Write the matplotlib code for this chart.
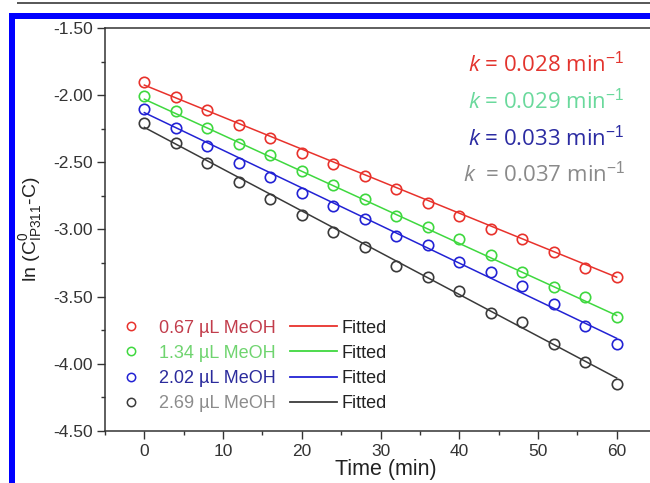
"""
plot.py  —  ln(C0 - C) vs time for four MeOH loadings, with linear fits.
Run: python plot.py
"""
import matplotlib
matplotlib.use("Agg")
import matplotlib.pyplot as plt
import matplotlib.ticker as mticker
from matplotlib.lines import Line2D
from matplotlib.patches import Rectangle

plt.rcParams["font.family"] = ["Liberation Sans", "DejaVu Sans"]
plt.rcParams["mathtext.fontset"] = "custom"
plt.rcParams["mathtext.rm"] = "Liberation Sans"
plt.rcParams["mathtext.it"] = "Open Sans:italic"

# ── Data ──────────────────────────────────────────────────────────────────
time_min = [0, 4, 8, 12, 16, 20, 24, 28, 32, 36, 40, 44, 48, 52, 56, 60]

ln_067 = [-1.90, -2.01, -2.11, -2.22, -2.32, -2.43, -2.51, -2.60,
          -2.70, -2.80, -2.90, -3.00, -3.07, -3.17, -3.29, -3.35]
ln_134 = [-2.005, -2.12, -2.245, -2.365, -2.445, -2.565, -2.67, -2.77,
          -2.90, -2.98, -3.07, -3.19, -3.32, -3.43, -3.50, -3.65]
ln_202 = [-2.10, -2.245, -2.38, -2.505, -2.61, -2.725, -2.825, -2.92,
          -3.05, -3.115, -3.24, -3.32, -3.42, -3.555, -3.72, -3.855]
ln_269 = [-2.207, -2.356, -2.505, -2.65, -2.77, -2.895, -3.02, -3.13,
          -3.27, -3.35, -3.46, -3.62, -3.69, -3.85, -3.99, -4.15]

# fitted lines: value at t = 0 and at t = 60
fit_t   = [0, 60]
fit_067 = [-1.925, -3.355]
fit_134 = [-2.03, -3.64]
fit_202 = [-2.13, -3.81]
fit_269 = [-2.24, -4.105]

series_labels = ["0.67 µL MeOH", "1.34 µL MeOH", "2.02 µL MeOH", "2.69 µL MeOH"]
k_labels = [r"$k$ = 0.028 min$^{-1}$", r"$k$ = 0.029 min$^{-1}$",
            r"$k$ = 0.033 min$^{-1}$", r"$k$  = 0.037 min$^{-1}$"]

# ── Styles ────────────────────────────────────────────────────────────────
DATA_C  = ["#e8322c", "#3fd83f", "#2222d4", "#3a3a3a"]
LABEL_C = ["#c23d4c", "#6fd46f", "#2b2b9c", "#8c8c8c"]
K_C     = ["#e3342e", "#6ad99c", "#2b2ba2", "#8a8a8a"]
AXIS_C  = "#333333"

fig = plt.figure(figsize=(6.5, 4.83), dpi=100)
fig.patch.set_facecolor("white")

# page decoration: grey rule on top, blue frame
W, H = 650, 483
fig.add_artist(Rectangle((17 / W, 1 - 4.3 / H), 1, 2.4 / H, transform=fig.transFigure,
                         color="#5a5a5a", lw=0))
fig.add_artist(Rectangle((9 / W, 0), 5.5 / W, 1 - 13 / H, transform=fig.transFigure,
                         color="#0000ff", lw=0))
fig.add_artist(Rectangle((9 / W, 1 - 18.5 / H), 1, 5.5 / H, transform=fig.transFigure,
                         color="#0000ff", lw=0))

ax = fig.add_axes([105 / W, 1 - 431 / H, 551 / W, 403 / H])

points = [ln_067, ln_134, ln_202, ln_269]
fits   = [fit_067, fit_134, fit_202, fit_269]

for ys, fy, c in zip(points, fits, DATA_C):
    ax.plot(fit_t, fy, color=c, lw=1.1, zorder=2)
    ax.plot(time_min, ys, "o", ms=7.5, mfc="none", mec=c, mew=1.2, zorder=3)

ax.set_xlim(-5, 65)
ax.set_ylim(-4.5, -1.5)
ax.xaxis.set_major_locator(mticker.MultipleLocator(10))
ax.xaxis.set_minor_locator(mticker.MultipleLocator(5))
ax.yaxis.set_major_locator(mticker.MultipleLocator(0.5))
ax.yaxis.set_minor_locator(mticker.MultipleLocator(0.25))
ax.yaxis.set_major_formatter(mticker.FormatStrFormatter("%.2f"))

for s in ax.spines.values():
    s.set_color(AXIS_C)
    s.set_linewidth(1.1)
ax.tick_params(which="major", length=5.5, width=1.0, color=AXIS_C,
               labelsize=12.5, labelcolor="#333333", pad=3.5)
ax.tick_params(which="minor", length=3, width=1.0, color=AXIS_C)

ax.set_xlabel("Time (min)", fontsize=15.5, color="#222222", va="top")
ax.xaxis.set_label_coords(0.51, -0.07)
ax.set_ylabel(r"ln (C$^{0}_{\mathrm{IP311}}$-C)", fontsize=14, color="#222222")
ax.yaxis.set_label_coords(-0.111, 0.5)

# rate constants, top right
for i, (txt, c) in enumerate(zip(k_labels, K_C)):
    ax.text(0.9437, 0.891 - i * 0.091, txt, transform=ax.transAxes,
            ha="right", va="baseline", fontsize=16, color=c,
            family=["Open Sans", "DejaVu Sans"])

# two-column legend: symbols | fits
sym_h = [Line2D([], [], ls="none", marker="o", ms=6, mfc="none", mec=c, mew=1.1)
         for c in DATA_C]
fit_h = [Line2D([], [], color=c, lw=1.3) for c in DATA_C]
leg = ax.legend(sym_h + fit_h, series_labels + ["Fitted"] * 4, ncol=2,
                loc="lower left", bbox_to_anchor=(0.0045, 0.047), frameon=False,
                fontsize=13, handlelength=2.6, handletextpad=0.25,
                columnspacing=0.78, labelspacing=0.45, borderpad=0, borderaxespad=0)
for t, c in zip(leg.get_texts()[:4], LABEL_C):
    t.set_color(c)
for t in leg.get_texts()[4:]:
    t.set_color("#222222")

fig.savefig("out.png", dpi=100, facecolor=fig.get_facecolor())
print("Saved: out.png")
